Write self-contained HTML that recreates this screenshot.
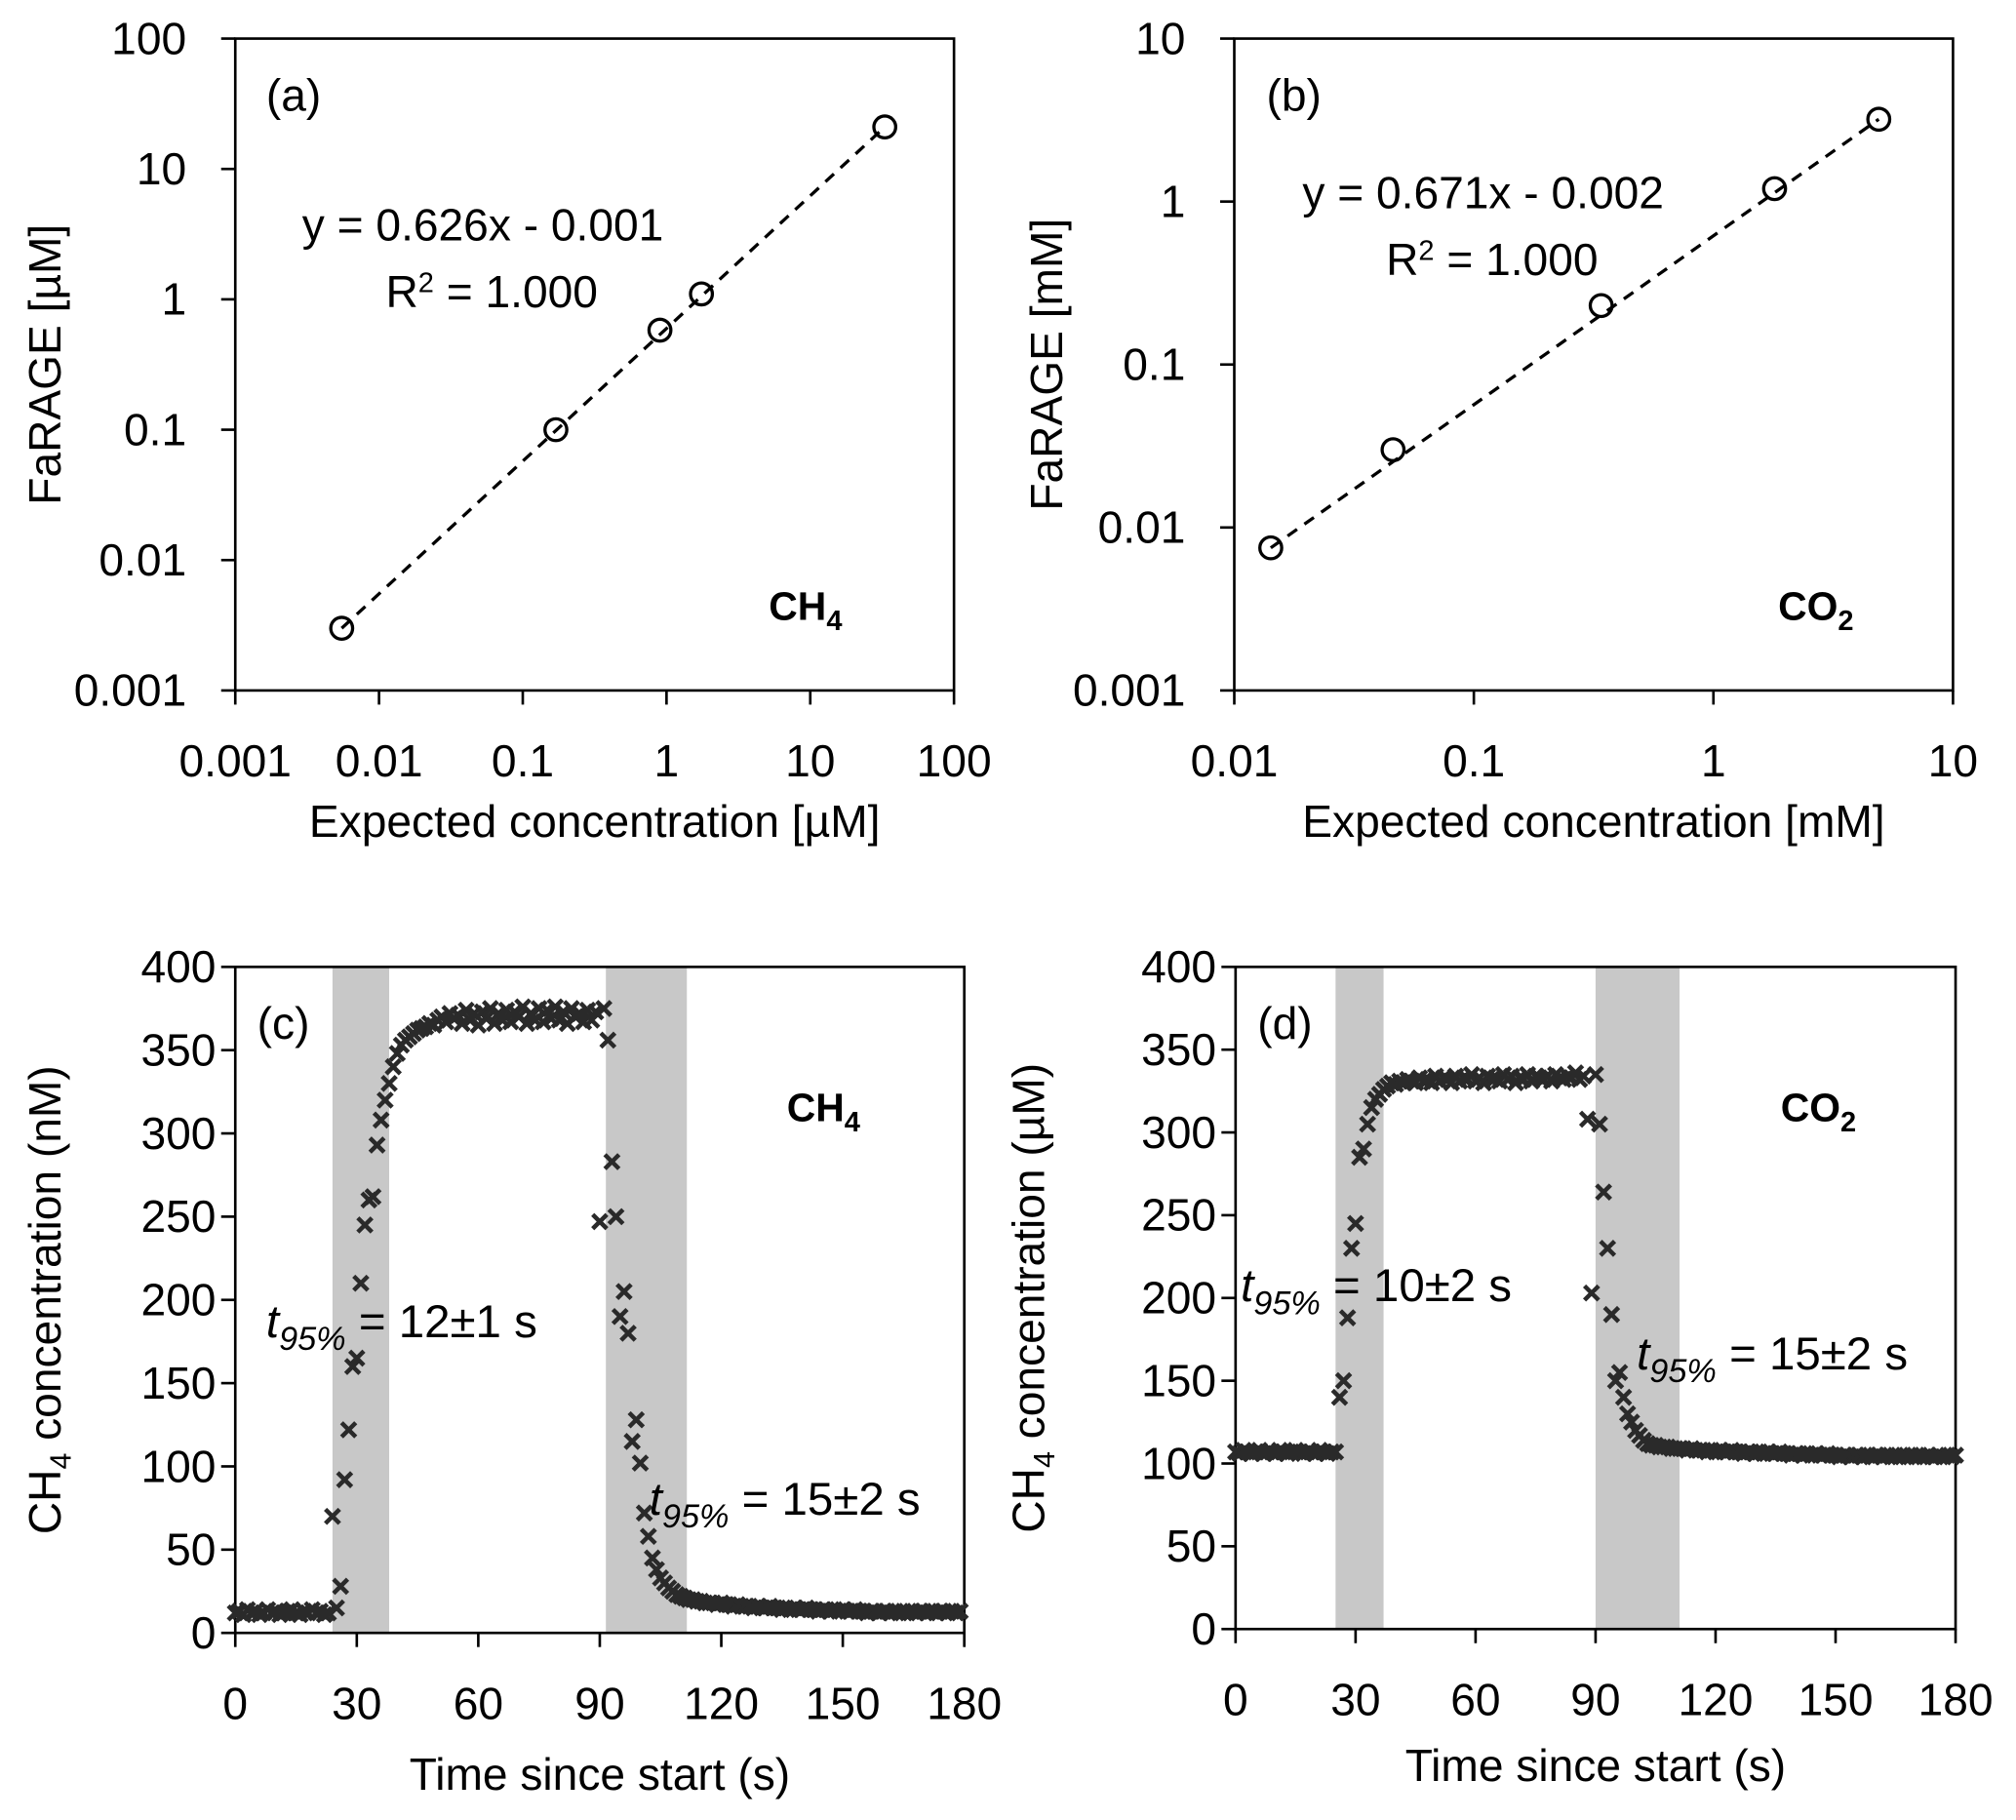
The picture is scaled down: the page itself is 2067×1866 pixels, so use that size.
<!DOCTYPE html>
<html><head><meta charset="utf-8"><style>
html,body{margin:0;padding:0;background:#fff}
svg{display:block}
text{font-family:"Liberation Sans",sans-serif;fill:#000}
</style></head><body>
<svg id="fig" width="2067" height="1866" viewBox="0 0 1568 1415.5" xmlns="http://www.w3.org/2000/svg"></svg>
<script>
// Panel a data
const aX = [0.0055, 0.17, 0.9, 1.75, 33];
const aY = [0.003, 0.1, 0.58, 1.1, 21];
const aXTicks = ["0.001","0.01","0.1","1","10","100"];
const aYTicks = ["0.001","0.01","0.1","1","10","100"];
// Panel b data
const bX = [0.0142, 0.046, 0.34, 1.8, 4.9];
const bY = [0.0075, 0.03, 0.23, 1.2, 3.2];
const bXTicks = ["0.01","0.1","1","10"];
const bYTicks = ["0.001","0.01","0.1","1","10"];
// Panel c data (CH4 nM, 1 s steps from 0 s)
const cVals = [12,13,11,14,12,13,11,12,14,12,13,11,12,13,14,12,11,13,12,14,12,13,11,12,
 70,15,28,92,122,160,165,210,245,260,262,293,308,320,330,340,348,353,356,358,360,362,363,364,366,365,
 368,370,367,372,369,371,366,374,368,372,365,373,369,375,366,372,368,374,367,373,370,376,366,372,368,375,367,374,369,376,368,373,366,375,370,372,367,374,368,373,
 247,375,356,283,250,190,205,180,115,128,102,72,58,45,38,33,30,27,25,23,22,21,20,20,19,19,18,18,
 18,17,18,17,17,16,17,16,16,16,15,16,15,15,16,15,15,14,15,14,15,14,14,15,14,14,13,14,14,13,14,13,14,13,13,14,13,13,12,13,13,12,13,13,12,13,12,13,12,13,12,13,
 13,12,13,12,13,13,12,13,12,13];
// Panel d data (CO2 µM, 1 s steps from 0 s)
const dVals = [107,106,108,107,106,107,108,106,107,107,106,108,107,106,107,108,107,106,107,107,106,108,107,106,107,107,
 140,150,188,230,245,285,290,305,315,320,323,326,328,330,329,331,330,332,331,330,333,331,332,330,334,331,333,332,330,334,331,333,332,335,331,333,330,334,332,333,331,335,332,334,330,333,332,335,331,334,333,332,334,331,335,333,332,334,333,336,332,334,
 308,203,335,305,264,230,190,150,155,140,130,125,120,117,114,112,111,111,110,110,110,109,109,109,
 109,108,109,108,108,108,107,108,107,108,107,107,108,107,107,106,107,107,106,107,106,107,106,106,107,106,106,105,106,106,105,106,105,106,105,105,106,105,105,104,105,105,104,105,105,104,105,104,105,105,104,105,104,105,104,105,104,105,104,
 105,104,105,104,104,105,104,105,104,105];
const cTicksX = [0,30,60,90,120,150,180];
const cTicksY = [0,50,100,150,200,250,300,350,400];
const cBands = [[24,38],[91.5,111.5]];
const dBands = [[25,37],[90,111]];

const NS="http://www.w3.org/2000/svg";
const svg=document.getElementById('fig');
function el(tag,attrs,parent,txt){const e=document.createElementNS(NS,tag);for(const k in attrs)e.setAttribute(k,attrs[k]);if(txt!==undefined)e.textContent=txt;(parent||svg).appendChild(e);return e;}
const TF=35, TT=35;

function logPanel(name,L,R,T,B,xmin,xmax,ymin,ymax,xs,ys,xt,yt,eq1,eqx,eqy,lab,labx,species,spx,xtitle,ytitle,ytx){
  const g=el('g',{});
  
  
  const lx0=Math.log10(xmin),lx1=Math.log10(xmax),ly0=Math.log10(ymin),ly1=Math.log10(ymax);
  const sx=v=>L+(Math.log10(v)-lx0)/(lx1-lx0)*(R-L);
  const sy=v=>B-(Math.log10(v)-ly0)/(ly1-ly0)*(B-T);
  const frame=el('rect',{x:L,y:T,width:R-L,height:B-T,fill:'none',stroke:'#000','stroke-width':2},g);
  
  
  xt.forEach(t=>{const x=sx(parseFloat(t));
    el('line',{x1:x,y1:B,x2:x,y2:B+11,stroke:'#000','stroke-width':2},g);
    const tx=el('text',{x:x,y:B+67,'font-size':TF,'text-anchor':'middle'},g,t);
    
    });
  yt.forEach(t=>{const y=sy(parseFloat(t));
    el('line',{x1:L-11,y1:y,x2:L,y2:y,stroke:'#000','stroke-width':2},g);
    const tx=el('text',{x:L-38,y:y+12,'font-size':TF,'text-anchor':'end'},g,t);
    
    });
  const ln=el('line',{x1:sx(xs[0]),y1:sy(ys[0]),x2:sx(xs[xs.length-1]),y2:sy(ys[ys.length-1]),stroke:'#000','stroke-width':2.5,'stroke-dasharray':'9,7'},g);
  
  
  xs.forEach((x,i)=>{const c=el('circle',{cx:sx(x),cy:sy(ys[i]),r:8.5,fill:'none',stroke:'#000','stroke-width':2.5},g);
    
    });
  const e1=el('text',{x:eqx,y:eqy,'font-size':TT},g,eq1);
  
  
  const e2=el('text',{x:eqx+65,y:eqy+52,'font-size':TT},g);
  
  
  e2.innerHTML='R<tspan dy="-12" font-size="22">2</tspan><tspan dy="12"> = 1.000</tspan>';
  const lb=el('text',{x:labx,y:T+56,'font-size':TT},g,lab);
  
  
  const sp=el('text',{x:spx,y:B-55,'font-size':31,'font-weight':'bold'},g);
  
  
  sp.innerHTML=species;
  const xtl=el('text',{x:(L+R)/2,y:B+114,'font-size':TT,'text-anchor':'middle'},g,xtitle);
  
  
  const ytl=el('text',{x:0,y:0,'font-size':TT,'text-anchor':'middle',transform:`translate(${ytx},${(T+B)/2}) rotate(-90)`},g,ytitle);
  
  
}

logPanel('a',183,742,30,537,0.001,100,0.001,100,aX,aY,aXTicks,aYTicks,'y = 0.626x - 0.001',235,187,'(a)',207,
 'CH<tspan dy="8" font-size="22">4</tspan>',598,'Expected concentration [\u00b5M]','FaRAGE [\u00b5M]',47);
logPanel('b',960,1519,30,537,0.01,10,0.001,10,bX,bY,bXTicks,bYTicks,'y = 0.671x - 0.002',1013,162,'(b)',985,
 'CO<tspan dy="8" font-size="22">2</tspan>',1383,'Expected concentration [mM]','FaRAGE [mM]',826);

function timePanel(name,L,R,T,B,vals,bands,lab,species,spx,ann,ytitle,ytx,xtitleY){
  const g=el('g',{});
  
  
  const sx=v=>L+v/180*(R-L);
  const sy=v=>B-v/400*(B-T);
  bands.forEach(b=>{const r=el('rect',{x:sx(b[0]),y:T,width:sx(b[1])-sx(b[0]),height:B-T,fill:'#c8c8c8'},g);
    
    });
  const frame=el('rect',{x:L,y:T,width:R-L,height:B-T,fill:'none',stroke:'#000','stroke-width':2},g);
  
  
  cTicksX.forEach(t=>{const x=sx(t);
    el('line',{x1:x,y1:B,x2:x,y2:B+11,stroke:'#000','stroke-width':2},g);
    const tx=el('text',{x:x,y:B+67,'font-size':TF,'text-anchor':'middle'},g,String(t));
    
    });
  cTicksY.forEach(t=>{const y=sy(t);
    el('line',{x1:L-11,y1:y,x2:L,y2:y,stroke:'#000','stroke-width':2},g);
    const tx=el('text',{x:L-15,y:y+12,'font-size':TF,'text-anchor':'end'},g,String(t));
    
    });
  vals.forEach((v,i)=>{const x=sx(i),y=sy(v),s=5.5;
    const p=el('path',{d:`M${x-s},${y-s}L${x+s},${y+s}M${x-s},${y+s}L${x+s},${y-s}`,stroke:'#2a2a2a','stroke-width':3.4},g);
    
    });
  const lb=el('text',{x:L+17,y:T+56,'font-size':TT},g,lab);
  
  
  const sp=el('text',{x:spx,y:T+120,'font-size':31,'font-weight':'bold'},g);
  
  
  sp.innerHTML=species;
  ann.forEach(a=>{const t=el('text',{x:a[0],y:a[1],'font-size':36},g);
    
    
    t.innerHTML=`<tspan font-style="italic">t</tspan><tspan font-style="italic" font-size="26" dy="10">95%</tspan><tspan dy="-10"> = ${a[2]}</tspan>`;});
  const xtl=el('text',{x:(L+R)/2,y:xtitleY,'font-size':TT,'text-anchor':'middle'},g,'Time since start (s)');
  
  
  const ytl=el('text',{x:0,y:0,'font-size':TT,'text-anchor':'middle',transform:`translate(${ytx},${(T+B)/2}) rotate(-90)`},g);
  
  
  ytl.innerHTML=`CH<tspan dy="8" font-size="23">4</tspan><tspan dy="-8"> ${ytitle}</tspan>`;
}
timePanel('c',183,750,752,1270,cVals,cBands,'(c)','CH<tspan dy="8" font-size="22">4</tspan>',612,
 [[207,1040,'12\u00b11 s'],[505,1178,'15\u00b12 s']],'concentration (nM)',47,1392);
timePanel('d',961,1521,752,1267,dVals,dBands,'(d)','CO<tspan dy="8" font-size="22">2</tspan>',1385,
 [[965,1012,'10\u00b12 s'],[1273,1065,'15\u00b12 s']],'concentration (\u00b5M)',812,1385);
</script>
</body></html>
